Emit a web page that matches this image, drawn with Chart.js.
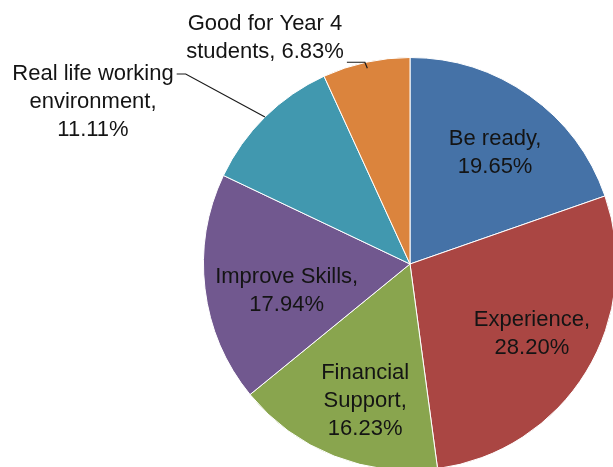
<!DOCTYPE html>
<html>
<head>
<meta charset="utf-8">
<script src="https://cdn.jsdelivr.net/npm/chart.js@4"></script>
<style>
    html, body { margin: 0; padding: 0; background: #fff; }
    #wrap { position: relative; width: 613px; height: 467px; overflow: hidden; }
    #reasonChart { position: absolute; left: 0; top: 0; }
</style>
</head>
<body>
<div id="wrap"><canvas id="reasonChart" width="820" height="530"></canvas></div>
<script>
// Datos de la gráfica
const categories = ['Be ready', 'Experience', 'Financial Support', 'Improve Skills', 'Real life working environment', 'Good for Year 4 students'];
const percentages = [19.65, 28.20, 16.23, 17.94, 11.11, 6.83];
const labelLines = [
    ['Be ready,', '19.65%'],
    ['Experience,', '28.20%'],
    ['Financial', 'Support,', '16.23%'],
    ['Improve Skills,', '17.94%'],
    ['Real life working', 'environment,', '11.11%'],
    ['Good for Year 4', 'students, 6.83%']
];

// Etiquetas estilo Excel (dentro y con línea guía fuera)
const sliceLabels = {
    id: 'sliceLabels',
    afterDatasetsDraw(chart, args, opts) {
        const ctx = chart.ctx;
        const arcs = chart.getDatasetMeta(0).data;
        ctx.save();
        ctx.font = opts.font;
        ctx.fillStyle = opts.color;
        ctx.textAlign = 'center';
        ctx.textBaseline = 'middle';
        arcs.forEach((arc, i) => {
            const cfg = opts.items[i];
            const lines = labelLines[i];
            const mid = (arc.startAngle + arc.endAngle) / 2;
            const r = arc.outerRadius;
            const lh = opts.lineHeight;
            let cx, cy;
            if (cfg.mode === 'in') {
                cx = arc.x + Math.cos(mid) * r * opts.inRadius + cfg.shift[0];
                cy = arc.y + Math.sin(mid) * r * opts.inRadius + cfg.shift[1];
            } else {
                const ex = arc.x + Math.cos(mid) * r;
                const ey = arc.y + Math.sin(mid) * r;
                cx = ex + cfg.shift[0];
                cy = ey + cfg.shift[1];
                // línea guía
                const ly = cy - (lines.length - 1) * lh / 2 + cfg.attach * lh + cfg.lineDy;
                const lw = ctx.measureText(lines[cfg.attach]).width;
                const tx = cx + lw / 2 + 3;
                const sx = arc.x + Math.cos(mid) * r * cfg.leaderR;
                const sy = arc.y + Math.sin(mid) * r * cfg.leaderR;
                ctx.beginPath();
                ctx.strokeStyle = '#1a1a1a';
                ctx.lineWidth = 1.2;
                ctx.moveTo(tx, ly);
                ctx.lineTo(tx + cfg.elbow, ly);
                ctx.lineTo(sx, sy);
                ctx.stroke();
            }
            lines.forEach((t, k) => {
                ctx.fillText(t, cx, cy - (lines.length - 1) * lh / 2 + k * lh);
            });
        });
        ctx.restore();
    }
};

document.addEventListener('DOMContentLoaded', function () {
    const ctxReason = document.getElementById('reasonChart');
    new Chart(ctxReason.getContext('2d'), {
        type: 'pie',
        data: {
            labels: categories,
            datasets: [{
                data: percentages,
                backgroundColor: ['#4572A7', '#AA4643', '#89A54E', '#71588F', '#4198AF', '#DB843D'],
                borderColor: '#ffffff',
                borderWidth: 1
            }]
        },
        options: {
            responsive: false,
            animation: false,
            layout: { padding: { left: 203, right: 203, top: 57, bottom: 59 } },
            plugins: {
                legend: { display: false },
                tooltip: { enabled: false },
                sliceLabels: {
                    font: '22px "Liberation Sans", Arial, sans-serif',
                    color: '#141414',
                    lineHeight: 28,
                    inRadius: 0.67,
                    items: [
                        { mode: 'in', shift: [5, 2] },
                        { mode: 'in', shift: [4, -2] },
                        { mode: 'in', shift: [6, 8] },
                        { mode: 'in', shift: [14, 10] },
                        { mode: 'out', shift: [-172, -15], attach: 0, elbow: 9, leaderR: 1.0, lineDy: 0 },
                        { mode: 'out', shift: [-101, -24], attach: 1, elbow: 18, leaderR: 0.97, lineDy: 10 }
                    ]
                }
            }
        },
        plugins: [sliceLabels]
    });
});
</script>
</body>
</html>
